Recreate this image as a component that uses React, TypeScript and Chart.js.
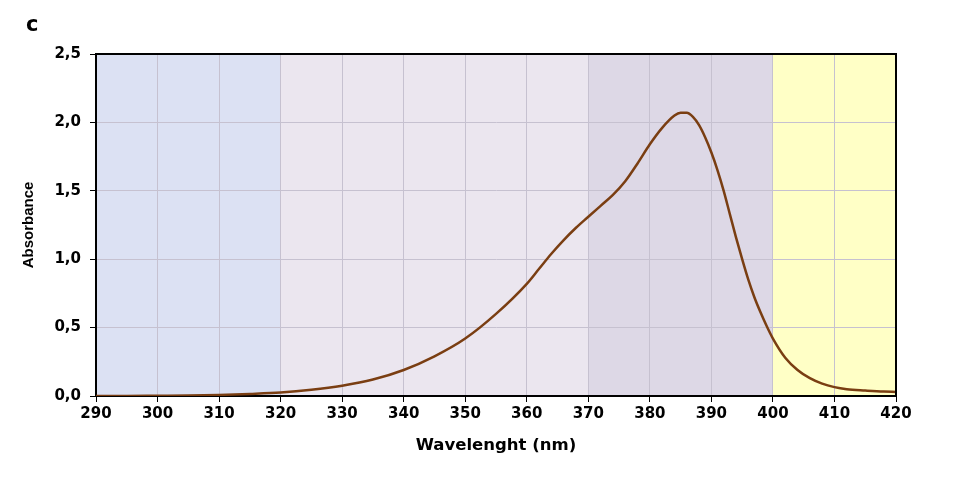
import React, { useEffect, useRef } from "react";
import { Chart, registerables } from "chart.js";

Chart.register(...registerables);

const wavelengths = [290, 295, 300, 305, 310, 315, 320, 325, 330, 335, 340, 345, 350, 355, 360, 362, 364, 366, 368, 370, 372, 374, 376, 378, 380, 382, 384, 385, 386, 387, 388, 389, 390, 391, 392, 393, 394, 395, 396, 397, 398, 399, 400, 402, 404, 406, 408, 410, 412, 415, 418, 420];
const absorbance = [0, 0, 0.002, 0.004, 0.008, 0.015, 0.025, 0.045, 0.075, 0.12, 0.19, 0.29, 0.42, 0.6, 0.82, 0.93, 1.04, 1.14, 1.23, 1.31, 1.39, 1.47, 1.57, 1.7, 1.84, 1.96, 2.05, 2.07, 2.07, 2.04, 1.98, 1.89, 1.78, 1.65, 1.5, 1.33, 1.16, 1.0, 0.85, 0.72, 0.61, 0.51, 0.42, 0.28, 0.19, 0.13, 0.09, 0.065, 0.05, 0.04, 0.032, 0.03];
const bandEdges = [290, 320, 370, 400, 420];
const bandColors = ["#dce1f3", "#ebe6ef", "#ddd8e6", "#ffffc6"];
const panelLabel = "c";
const xTitle = "Wavelenght (nm)";
const yTitle = "Absorbance";

const FONT = "'DejaVu Sans', 'Liberation Sans', Arial, sans-serif";
const FONT2 = "'Liberation Sans', Arial, sans-serif";

export default function App() {
  const ref = useRef<HTMLCanvasElement>(null);
  useEffect(() => {
    const bands = {
      id: "bands",
      beforeDraw(chart: any) {
        const { ctx, chartArea, scales } = chart;
        ctx.save();
        for (let i = 0; i < bandColors.length; i++) {
          const x0 = scales.x.getPixelForValue(bandEdges[i]);
          const x1 = scales.x.getPixelForValue(bandEdges[i + 1]);
          ctx.fillStyle = bandColors[i];
          ctx.fillRect(x0, chartArea.top, x1 - x0, chartArea.bottom - chartArea.top);
        }
        ctx.restore();
      },
      afterDraw(chart: any) {
        const { ctx, chartArea } = chart;
        ctx.save();
        ctx.strokeStyle = "#000";
        ctx.lineWidth = 2;
        ctx.beginPath();
        ctx.moveTo(chartArea.left, chartArea.top);
        ctx.lineTo(chartArea.right, chartArea.top);
        ctx.lineTo(chartArea.right, chartArea.bottom);
        ctx.stroke();
        ctx.fillStyle = "#000";
        ctx.font = `bold 21px ${FONT}`;
        ctx.textBaseline = "middle";
        ctx.fillText(panelLabel, 26, 26);
        ctx.restore();
      },
    };
    const chart = new Chart(ref.current!, {
      type: "line",
      data: {
        datasets: [
          {
            data: wavelengths.map((w, i) => ({ x: w, y: absorbance[i] })),
            borderColor: "#7a3e12",
            borderWidth: 2.5,
            pointRadius: 0,
            cubicInterpolationMode: "monotone",
            fill: false,
          },
        ],
      },
      options: {
        animation: false,
        responsive: false,
        maintainAspectRatio: false,
        layout: { padding: { top: 54, right: 75, bottom: 0, left: 0 } },
        plugins: { legend: { display: false }, tooltip: { enabled: false } },
        scales: {
          x: {
            type: "linear",
            min: 290,
            max: 420,
            afterFit: (s: any) => { s.height = 90; },
            ticks: { stepSize: 10, color: "#000", font: { family: FONT, size: 15, weight: "bold" }, padding: 3 },
            grid: { color: "#c6c1d0", lineWidth: 1, tickColor: "#000", tickLength: 6, drawOnChartArea: true },
            border: { color: "#000", width: 2 },
            title: { display: true, text: xTitle, color: "#000", font: { family: FONT, size: 16.5, weight: "bold" }, padding: { top: 0, bottom: 30 } },
          },
          y: {
            min: 0,
            max: 2.5,
            afterFit: (s: any) => { s.width = 96; },
            ticks: {
              stepSize: 0.5,
              color: "#000",
              font: { family: FONT, size: 15, weight: "bold" },
              padding: 9,
              callback: (v: any) => Number(v).toFixed(1).replace(".", ","),
            },
            grid: { color: "#c6c1d0", lineWidth: 1, tickColor: "#000", tickLength: 6 },
            border: { color: "#000", width: 2 },
            title: { display: true, text: yTitle, color: "#000", font: { family: FONT2, size: 15, weight: "bold" }, padding: { top: 20, bottom: 0 } },
          },
        },
      },
      plugins: [bands],
    });
    return () => chart.destroy();
  }, []);
  return (
    <div style={{ position: "fixed", left: 0, top: 0, width: 971, height: 486, background: "#fff" }}>
      <canvas ref={ref} width={971} height={486} style={{ width: 971, height: 486 }} />
    </div>
  );
}
